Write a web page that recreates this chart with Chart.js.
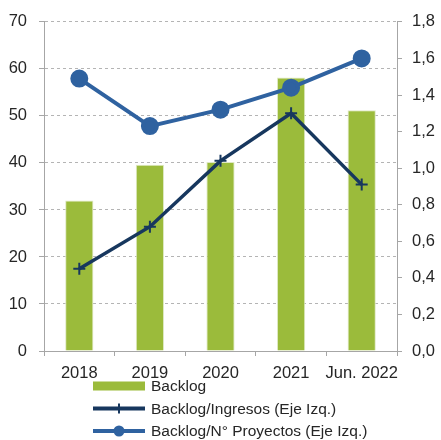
<!DOCTYPE html>
<html>
<head>
<meta charset="utf-8">
<script src="https://cdn.jsdelivr.net/npm/chart.js@4.4.1/dist/chart.umd.min.js"></script>
<style>
  html, body { margin: 0; padding: 0; background: #fff; }
</style>
</head>
<body>
<canvas id="chart" width="441" height="440"></canvas>
<script>
const categories = ["2018", "2019", "2020", "2021", "Jun. 2022"];
const backlog = [32, 39.6, 40.2, 58.2, 51.2];
const backlogIngresos = [0.45, 0.68, 1.04, 1.30, 0.91];
const backlogProyectos = [1.49, 1.23, 1.32, 1.44, 1.60];

const green = "#9BBB3B";
const navy = "#17375E";
const blue = "#2F62A0";
const axisGray = "#a6a6a6";
const tickFont = {family: "'Liberation Sans', Arial, sans-serif", size: 16.5};
const legendFont = "15.5px 'Liberation Sans', Arial, sans-serif";

// legend stacked one item per row, left aligned under the plot
const stackedLegend = {
    id: "stackedLegend",
    afterDraw: chart => {
        const ctx = chart.ctx;
        ctx.save();
        ctx.font = legendFont;
        ctx.textBaseline = "middle";
        chart.data.datasets.forEach((ds, i) => {
            const y = 386 + i * 22.5;
            const x0 = 93, x1 = 145;
            if (ds.type === "bar") {
                ctx.fillStyle = ds.backgroundColor;
                ctx.fillRect(x0, y - 4.5, x1 - x0, 9);
            } else {
                ctx.strokeStyle = ds.borderColor;
                ctx.lineWidth = 4;
                ctx.beginPath();
                ctx.moveTo(x0, y);
                ctx.lineTo(x1, y);
                ctx.stroke();
                const cx = (x0 + x1) / 2;
                if (ds.pointStyle === "circle") {
                    ctx.fillStyle = ds.borderColor;
                    ctx.beginPath();
                    ctx.arc(cx, y, 5.5, 0, Math.PI * 2);
                    ctx.fill();
                } else {
                    ctx.lineWidth = 2;
                    ctx.beginPath();
                    ctx.moveTo(cx, y - 5);
                    ctx.lineTo(cx, y + 5);
                    ctx.stroke();
                }
            }
            ctx.fillStyle = "#262626";
            ctx.fillText(ds.label, 151, y + 1);
        });
        ctx.restore();
    }
};

new Chart(document.getElementById("chart").getContext("2d"), {
    type: "bar",
    data: {
        labels: categories,
        datasets: [
            {
                type: "bar",
                label: "Backlog",
                data: backlog,
                backgroundColor: green,
                borderColor: "#dfe9c4",
                borderWidth: 1,
                categoryPercentage: 1,
                barPercentage: 0.4,
                yAxisID: "y",
                order: 3
            },
            {
                type: "line",
                label: "Backlog/Ingresos (Eje Izq.)",
                data: backlogIngresos,
                borderColor: navy,
                backgroundColor: navy,
                borderWidth: 3.5,
                pointStyle: "cross",
                pointRadius: 6,
                pointBorderWidth: 2,
                tension: 0,
                yAxisID: "y1",
                order: 2
            },
            {
                type: "line",
                label: "Backlog/N° Proyectos (Eje Izq.)",
                data: backlogProyectos,
                borderColor: blue,
                backgroundColor: blue,
                borderWidth: 4,
                pointStyle: "circle",
                pointRadius: 7,
                tension: 0,
                yAxisID: "y1",
                order: 1
            }
        ]
    },
    options: {
        responsive: false,
        animation: false,
        layout: {padding: {top: 21, left: 0, right: 0, bottom: 0}},
        plugins: {
            legend: {display: false},
            tooltip: {enabled: false}
        },
        scales: {
            x: {
                offset: true,
                grid: {drawOnChartArea: false, offset: true, tickLength: 5, color: axisGray},
                border: {color: axisGray},
                ticks: {color: "#262626", font: tickFont, padding: 8, maxRotation: 0, autoSkip: false},
                afterFit: s => { s.height = 89; }
            },
            y: {
                position: "left",
                min: 0,
                max: 70,
                ticks: {stepSize: 10, color: "#262626", font: tickFont, padding: 12},
                grid: {color: "#b4b4b4", tickColor: axisGray, tickLength: 5, tickBorderDash: [0, 0]},
                border: {color: axisGray, dash: [3, 3]},
                afterFit: s => { s.width = 44; }
            },
            y1: {
                position: "right",
                min: 0,
                max: 1.8,
                ticks: {
                    stepSize: 0.2,
                    color: "#262626",
                    font: tickFont,
                    padding: 10,
                    callback: v => v.toFixed(1).replace(".", ",")
                },
                grid: {drawOnChartArea: false, color: axisGray, tickLength: 5},
                border: {color: axisGray},
                afterFit: s => { s.width = 44; }
            }
        }
    },
    plugins: [stackedLegend]
});
</script>
</body>
</html>
